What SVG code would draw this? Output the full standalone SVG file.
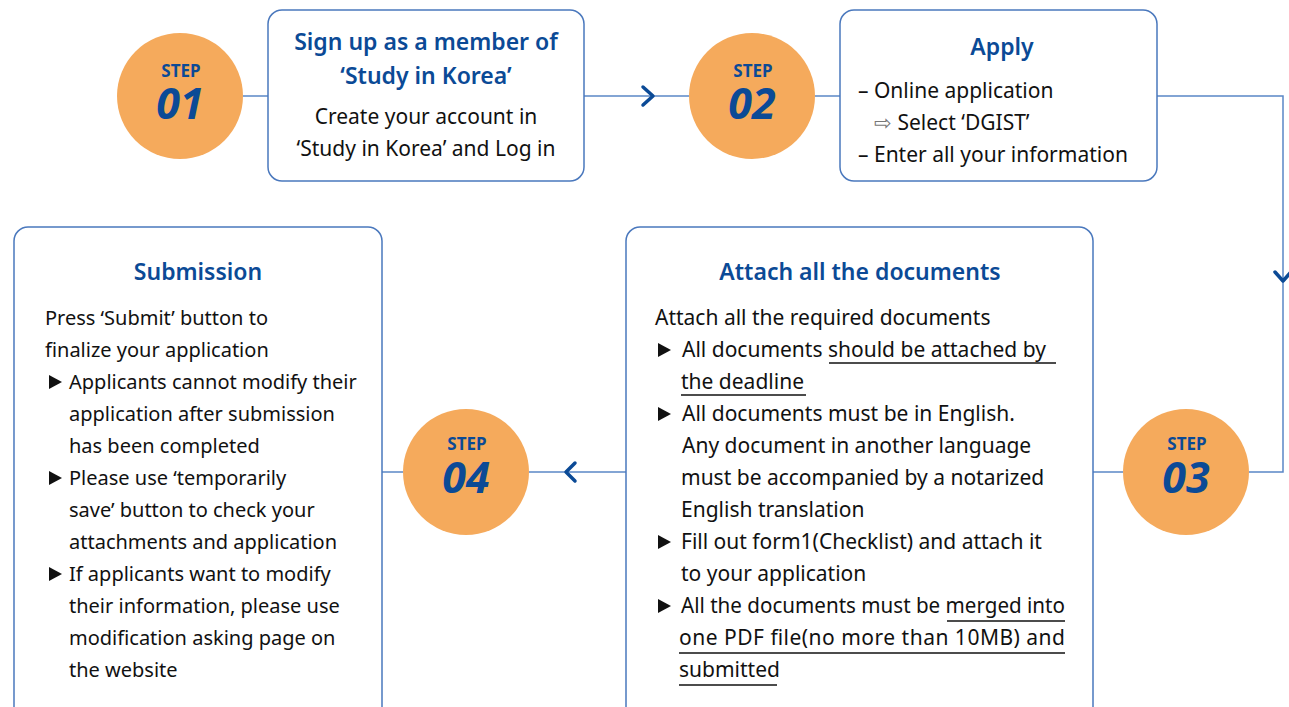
<svg xmlns="http://www.w3.org/2000/svg" width="1289" height="707" viewBox="0 0 1289 707">
<style>
.box{fill:#fff;stroke:#4a78bd;stroke-width:1.5}
.conn{fill:none;stroke:#5a87c6;stroke-width:1.5}
.chev{fill:none;stroke:#0b4a96;stroke-width:3.5;stroke-linecap:round;stroke-linejoin:round}
.circ{fill:#f5aa5c}
.step{font-family:"Noto Sans",sans-serif;font-weight:700;font-size:17px;fill:#0b4a96;text-anchor:middle}
.num{font-family:"Noto Sans",sans-serif;font-weight:700;font-style:italic;font-size:43px;fill:#0b4a96;text-anchor:middle}
.title{font-family:"Noto Sans",sans-serif;font-weight:600;font-size:23px;fill:#0b4a96;text-anchor:middle}
.body{font-family:"Noto Sans",sans-serif;font-size:20px;fill:#111}
.b21{font-family:"Noto Sans",sans-serif;font-size:21px;fill:#111}
.bodyc{font-family:"Noto Sans",sans-serif;font-size:21px;fill:#111;text-anchor:middle}
.ul{stroke:#111;stroke-width:1.3}
.bul{fill:#111}
</style>
<defs>
<path id="tri" d="M0,-7 L13,0 L0,7 Z"/>
</defs>
<g id="connectors">
<line class="conn" x1="243" y1="96" x2="268" y2="96"/>
<line class="conn" x1="584" y1="96" x2="689" y2="96"/>
<polyline class="chev" points="643,87 653,96 643,105"/>
<line class="conn" x1="815" y1="96" x2="840" y2="96"/>
<polyline class="conn" points="1157,96 1283,96 1283,472 1249,472"/>
<polyline class="chev" points="1275,272 1283,281 1291,272"/>
<line class="conn" x1="1093" y1="472" x2="1123" y2="472"/>
<line class="conn" x1="529" y1="472" x2="626" y2="472"/>
<polyline class="chev" points="575,463 566,472 575,481"/>
<line class="conn" x1="382" y1="472" x2="403" y2="472"/>
</g>
<g id="step01">
<circle class="circ" cx="180" cy="96" r="63"/>
<text class="step" x="181" y="77">STEP</text>
<text class="num" x="180" y="119">01</text>
</g>
<g id="box1">
<rect class="box" x="268" y="10" width="316" height="171" rx="14"/>
<text class="title" x="426" y="50">Sign up as a member of</text>
<text class="title" x="426" y="84">‘Study in Korea’</text>
<text class="bodyc" x="426" y="124">Create your account in</text>
<text class="bodyc" x="426" y="156">‘Study in Korea’ and Log in</text>
</g>
<g id="step02">
<circle class="circ" cx="752" cy="96" r="63"/>
<text class="step" x="753" y="77">STEP</text>
<text class="num" x="752" y="119">02</text>
</g>
<g id="box2">
<rect class="box" x="840" y="10" width="317" height="171" rx="14"/>
<text class="title" x="1002" y="55">Apply</text>
<text class="b21" x="858" y="98">– Online application</text>
<text class="b21" x="874" y="130"><tspan fill="#777">⇨</tspan> Select ‘DGIST’</text>
<text class="b21" x="858" y="162">– Enter all your information</text>
</g>
<g id="step03">
<circle class="circ" cx="1186" cy="472" r="63"/>
<text class="step" x="1187" y="450">STEP</text>
<text class="num" x="1186" y="493">03</text>
</g>
<g id="box3">
<rect class="box" x="626" y="227" width="467" height="495" rx="14"/>
<text class="title" x="860" y="280">Attach all the documents</text>
<text class="b21" x="655" y="325">Attach all the required documents</text>
<use class="bul" href="#tri" x="658" y="350"/>
<text class="b21" x="682" y="357">All documents should be attached by </text>
<text class="b21" x="681" y="389">the deadline</text>
<use class="bul" href="#tri" x="658" y="414"/>
<text class="b21" x="682" y="421">All documents must be in English.</text>
<text class="b21" x="682" y="453">Any document in another language</text>
<text class="b21" x="681" y="485">must be accompanied by a notarized</text>
<text class="b21" x="681" y="517">English translation</text>
<use class="bul" href="#tri" x="658" y="542"/>
<text class="b21" x="681" y="549">Fill out form1(Checklist) and attach it</text>
<text class="b21" x="681" y="581">to your application</text>
<use class="bul" href="#tri" x="658" y="606"/>
<text class="b21" x="681" y="613" textLength="384" lengthAdjust="spacingAndGlyphs">All the documents must be merged into</text>
<text class="b21" x="679" y="645" textLength="386">one PDF file(no more than 10MB) and</text>
<text class="b21" x="679" y="677">submitted</text>
<line class="ul" x1="829" y1="363" x2="1056" y2="363"/>
<line class="ul" x1="681" y1="395" x2="806" y2="395"/>
<line class="ul" x1="947" y1="621" x2="1065" y2="621"/>
<line class="ul" x1="679" y1="653" x2="1065" y2="653"/>
<line class="ul" x1="679" y1="685" x2="777" y2="685"/>
</g>
<g id="step04">
<circle class="circ" cx="466" cy="472" r="63"/>
<text class="step" x="467" y="450">STEP</text>
<text class="num" x="466" y="493">04</text>
</g>
<g id="box4">
<rect class="box" x="14" y="227" width="368" height="495" rx="14"/>
<text class="title" x="198" y="280">Submission</text>
<text class="body" x="45" y="325">Press ‘Submit’ button to</text>
<text class="body" x="45" y="357">finalize your application</text>
<use class="bul" href="#tri" x="49" y="382"/>
<text class="body" x="69" y="389">Applicants cannot modify their</text>
<text class="body" x="69" y="421">application after submission</text>
<text class="body" x="69" y="453">has been completed</text>
<use class="bul" href="#tri" x="49" y="478"/>
<text class="body" x="69" y="485">Please use ‘temporarily</text>
<text class="body" x="69" y="517">save’ button to check your</text>
<text class="body" x="69" y="549">attachments and application</text>
<use class="bul" href="#tri" x="49" y="574"/>
<text class="body" x="69" y="581">If applicants want to modify</text>
<text class="body" x="69" y="613">their information, please use</text>
<text class="body" x="69" y="645">modification asking page on</text>
<text class="body" x="69" y="677">the website</text>
</g>
</svg>
